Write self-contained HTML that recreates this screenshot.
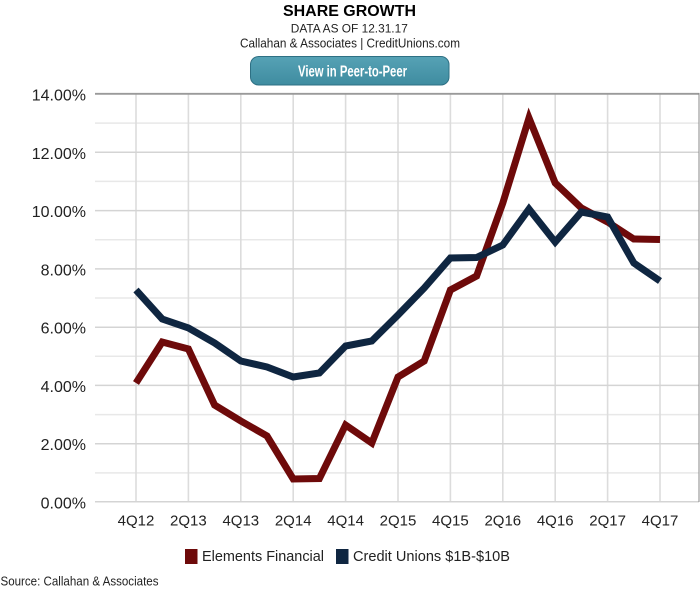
<!DOCTYPE html>
<html>
<head>
<meta charset="utf-8">
<style>
html,body{margin:0;padding:0;background:#fff;}
svg{display:block;}
text{font-family:"Liberation Sans",sans-serif;}
</style>
</head>
<body>
<svg width="700" height="590" viewBox="0 0 700 590" xmlns="http://www.w3.org/2000/svg">
  <rect x="0" y="0" width="700" height="590" fill="#fff"/>
  <!-- Header -->
  <text x="349.5" y="16" text-anchor="middle" font-size="16" font-weight="bold" fill="#000" textLength="133" lengthAdjust="spacingAndGlyphs">SHARE GROWTH</text>
  <text x="349.3" y="32.5" text-anchor="middle" font-size="11.5" fill="#222" textLength="117" lengthAdjust="spacingAndGlyphs">DATA AS OF 12.31.17</text>
  <text x="350" y="47.5" text-anchor="middle" font-size="12.5" fill="#222" textLength="220" lengthAdjust="spacingAndGlyphs">Callahan &amp; Associates | CreditUnions.com</text>
  <!-- Button -->
  <defs>
    <linearGradient id="btn" x1="0" y1="0" x2="0" y2="1">
      <stop offset="0" stop-color="#56a2b5"/>
      <stop offset="1" stop-color="#3f8ca0"/>
    </linearGradient>
  </defs>
  <rect x="250.5" y="56.5" width="198.5" height="28.5" rx="8" ry="8" fill="url(#btn)" stroke="#2e7084" stroke-width="1"/>
  <text x="352.5" y="76.5" text-anchor="middle" font-size="15.5" font-weight="bold" fill="#fff" textLength="109" lengthAdjust="spacingAndGlyphs">View in Peer-to-Peer</text>

  <!-- Minor horizontal grid (odd %) -->
  <g stroke="#e8e8e8" stroke-width="1.5">
    <line x1="95" x2="699" y1="123.1" y2="123.1"/>
    <line x1="95" x2="699" y1="181.4" y2="181.4"/>
    <line x1="95" x2="699" y1="239.7" y2="239.7"/>
    <line x1="95" x2="699" y1="298.0" y2="298.0"/>
    <line x1="95" x2="699" y1="356.3" y2="356.3"/>
    <line x1="95" x2="699" y1="414.6" y2="414.6"/>
    <line x1="95" x2="699" y1="472.9" y2="472.9"/>
  </g>
  <!-- Vertical grid -->
  <g stroke="#dcdcdc" stroke-width="1.6">
    <line x1="136" x2="136" y1="94" y2="502"/>
    <line x1="188.4" x2="188.4" y1="94" y2="502"/>
    <line x1="240.8" x2="240.8" y1="94" y2="502"/>
    <line x1="293.2" x2="293.2" y1="94" y2="502"/>
    <line x1="345.6" x2="345.6" y1="94" y2="502"/>
    <line x1="398" x2="398" y1="94" y2="502"/>
    <line x1="450.4" x2="450.4" y1="94" y2="502"/>
    <line x1="502.8" x2="502.8" y1="94" y2="502"/>
    <line x1="555.2" x2="555.2" y1="94" y2="502"/>
    <line x1="607.6" x2="607.6" y1="94" y2="502"/>
    <line x1="660" x2="660" y1="94" y2="502"/>
  </g>
  <!-- Major horizontal grid -->
  <g stroke="#d4d4d4" stroke-width="1.5">
    <line x1="95" x2="699" y1="152.3" y2="152.3"/>
    <line x1="95" x2="699" y1="210.6" y2="210.6"/>
    <line x1="95" x2="699" y1="268.9" y2="268.9"/>
    <line x1="95" x2="699" y1="327.2" y2="327.2"/>
    <line x1="95" x2="699" y1="385.4" y2="385.4"/>
    <line x1="95" x2="699" y1="443.7" y2="443.7"/>
    <line x1="95" x2="699" y1="501.7" y2="501.7"/>
  </g>
  <!-- Borders -->
  <line x1="95" x2="699.5" y1="93.8" y2="93.8" stroke="#9a9a9a" stroke-width="1.8"/>
  <line x1="699" x2="699" y1="93" y2="502" stroke="#8a8a8a" stroke-width="1"/>

  <!-- Y labels -->
  <g font-size="16" fill="#222" text-anchor="end">
    <text x="86" y="100.5">14.00%</text>
    <text x="86" y="158.8">12.00%</text>
    <text x="86" y="217.1">10.00%</text>
    <text x="86" y="275.4">8.00%</text>
    <text x="86" y="333.7">6.00%</text>
    <text x="86" y="391.9">4.00%</text>
    <text x="86" y="450.2">2.00%</text>
    <text x="86" y="508.3">0.00%</text>
  </g>
  <!-- X labels -->
  <g font-size="15" fill="#222" text-anchor="middle">
    <text x="136" y="525.5">4Q12</text>
    <text x="188.4" y="525.5">2Q13</text>
    <text x="240.8" y="525.5">4Q13</text>
    <text x="293.2" y="525.5">2Q14</text>
    <text x="345.6" y="525.5">4Q14</text>
    <text x="398" y="525.5">2Q15</text>
    <text x="450.4" y="525.5">4Q15</text>
    <text x="502.8" y="525.5">2Q16</text>
    <text x="555.2" y="525.5">4Q16</text>
    <text x="607.6" y="525.5">2Q17</text>
    <text x="660" y="525.5">4Q17</text>
  </g>

  <!-- Series: Elements Financial -->
  <polyline fill="none" stroke="#6e0a0a" stroke-width="7" stroke-linejoin="miter" stroke-linecap="butt"
    points="136,383 162.2,342 188.4,349 214.6,405 240.8,421 267,436 293.2,479 319.4,478.5 345.6,425 371.8,443 398,377 424.2,361 450.4,290 476.6,276 502.8,203 529,118 555.2,183 581.4,208 607.6,222 633.8,239 660,239.5"/>
  <!-- Series: Credit Unions -->
  <polyline fill="none" stroke="#0f2641" stroke-width="7" stroke-linejoin="miter" stroke-linecap="butt"
    points="136,290 162.2,319 188.4,328 214.6,343 240.8,361 267,367 293.2,377 319.4,373 345.6,346 371.8,341 398,315 424.2,288 450.4,258 476.6,257.5 502.8,245 529,209 555.2,242 581.4,212 607.6,217 633.8,263 660,281"/>

  <!-- Legend -->
  <rect x="185" y="549" width="12.5" height="15" fill="#6e0a0a"/>
  <text x="202" y="561" font-size="15" fill="#222" textLength="122" lengthAdjust="spacingAndGlyphs">Elements Financial</text>
  <rect x="336" y="549" width="12.5" height="15" fill="#0f2641"/>
  <text x="353" y="561" font-size="15" fill="#222" textLength="157" lengthAdjust="spacingAndGlyphs">Credit Unions $1B-$10B</text>

  <!-- Source -->
  <text x="0.5" y="585.5" font-size="12.5" fill="#222" textLength="158" lengthAdjust="spacingAndGlyphs">Source: Callahan &amp; Associates</text>
</svg>
</body>
</html>
